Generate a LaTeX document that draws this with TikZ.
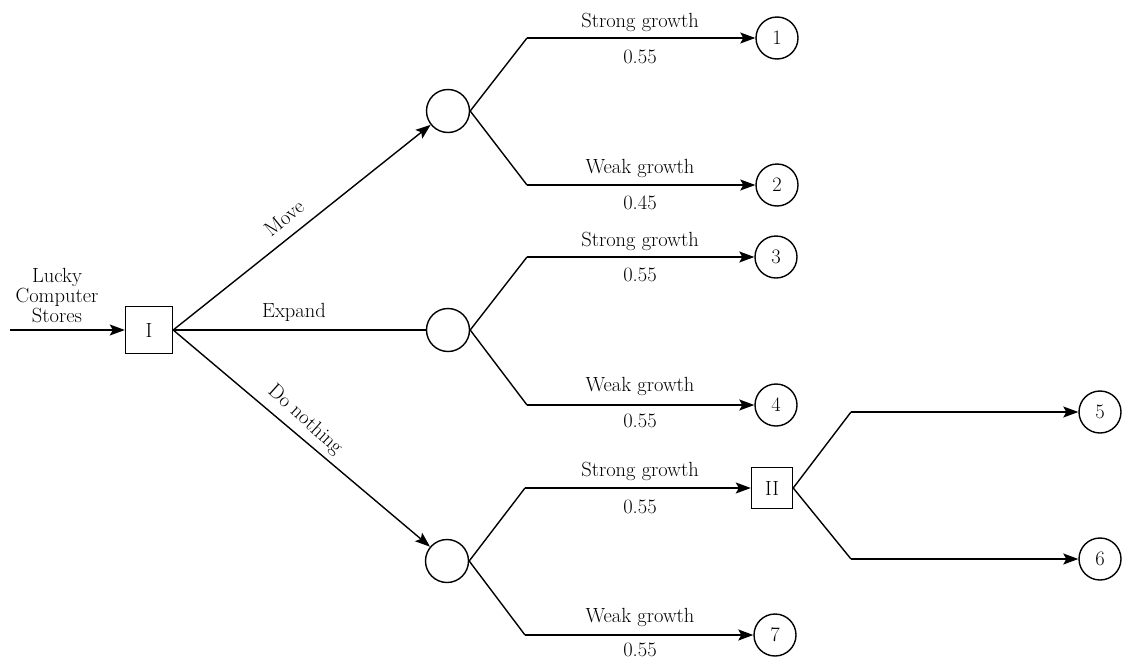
\documentclass[tikz,border=0pt]{standalone}
\usetikzlibrary{arrows.meta}
\begin{document}
\begin{tikzpicture}[x=1pt,y=-1pt,
  every node/.style={font=\fontsize{20.5}{23}\selectfont},
  chance/.style={draw,circle,line width=1.4pt,minimum size=43pt,inner sep=0pt},
  term/.style={draw,circle,line width=1.4pt,minimum size=42pt,inner sep=0pt},
  decision/.style={draw,rectangle,line width=1.4pt,minimum size=47pt,inner sep=0pt},
  decsmall/.style={draw,rectangle,line width=1.4pt,minimum size=41pt,inner sep=0pt},
  branch/.style={line width=1.4pt},
  arr/.style={line width=1.4pt,-{Stealth[length=15pt,width=11pt,inset=3pt]}},
  lbl/.style={inner sep=0pt}]
\useasboundingbox (0,0) rectangle (1122,659);
% nodes
\node[decision] (I) at (149,330) {I};
\node[chance] (c1) at (448,111) {};
\node[chance] (c2) at (448,330) {};
\node[chance] (c3) at (447,561) {};
\node[term] (t1) at (777,38) {1};
\node[term] (t2) at (777,185) {2};
\node[term] (t3) at (776,257) {3};
\node[term] (t4) at (776,405) {4};
\node[decsmall] (II) at (772,488) {II};
\node[term] (t5) at (1100,412) {5};
\node[term] (t6) at (1100,559) {6};
\node[term] (t7) at (775,635) {7};
\coordinate (start) at (10,330);
% bends
\coordinate (b1u) at (527,38);
\coordinate (b1d) at (527,185);
\coordinate (b2u) at (527,257);
\coordinate (b2d) at (527,405);
\coordinate (b3u) at (525,488);
\coordinate (b3d) at (525,635);
\coordinate (b4u) at (851,412);
\coordinate (b4d) at (851,559);
% input
\node[lbl,align=center,font=\fontsize{20.5}{20}\selectfont] (lucky) at (57,296) {Lucky\\Computer\\Stores};
\draw[arr] (start) -- (I.west);
% decisions
\draw[arr] (I.east) -- (c1);
\draw[branch] (I.east) -- (c2.west);
\draw[arr] (I.east) -- (c3);
\node[lbl,rotate=39] (mv) at (284,218) {Move};
\node[lbl] (ex) at (294,312) {Expand};
\node[lbl,rotate=-42] (dn) at (305,420) {Do nothing};
% chance 1
\draw[branch] (c1.east) -- (b1u);
\draw[arr] (b1u) -- (t1.west);
\draw[branch] (c1.east) -- (b1d);
\draw[arr] (b1d) -- (t2.west);
\node[lbl] (s1) at (640,22) {Strong growth};
\node[lbl] (p1) at (640,57) {0.55};
\node[lbl] (w1) at (640,168) {Weak growth};
\node[lbl] (p2) at (640,203) {0.45};
% chance 2
\draw[branch] (c2.east) -- (b2u);
\draw[arr] (b2u) -- (t3.west);
\draw[branch] (c2.east) -- (b2d);
\draw[arr] (b2d) -- (t4.west);
\node[lbl] (s2) at (640,241) {Strong growth};
\node[lbl] (p3) at (640,275) {0.55};
\node[lbl] (w2) at (640,386) {Weak growth};
\node[lbl] (p4) at (640,421) {0.55};
% chance 3
\draw[branch] (c3.east) -- (b3u);
\draw[arr] (b3u) -- (II.west);
\draw[branch] (c3.east) -- (b3d);
\draw[arr] (b3d) -- (t7.west);
\node[lbl] (s3) at (640,471) {Strong growth};
\node[lbl] (p5) at (640,507) {0.55};
\node[lbl] (w3) at (640,617) {Weak growth};
\node[lbl] (p6) at (640,650) {0.55};
% decision II
\draw[branch] (II.east) -- (b4u);
\draw[arr] (b4u) -- (t5.west);
\draw[branch] (II.east) -- (b4d);
\draw[arr] (b4d) -- (t6.west);
\end{tikzpicture}
\end{document}
